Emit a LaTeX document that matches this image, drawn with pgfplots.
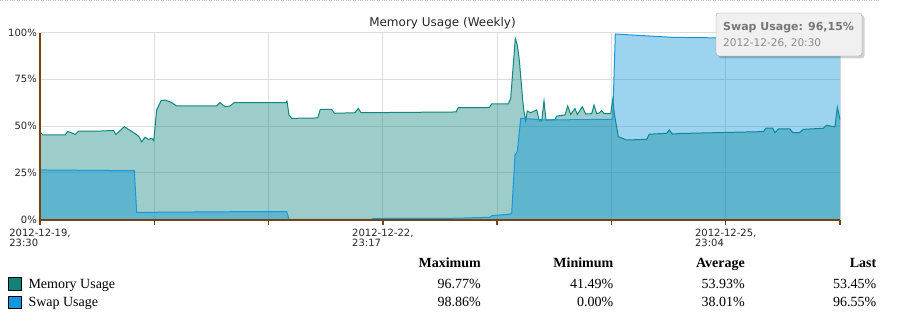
\documentclass[border=0pt]{standalone}
\usepackage{pgfplots}
\usepackage{pgfplotstable}
\pgfplotsset{compat=1.18}
\usepackage{fontspec}
\setmainfont{Liberation Serif}
\newfontfamily\dv{DejaVu Sans}
\definecolor{memline}{RGB}{16,134,126}
\definecolor{memfill}{RGB}{0,127,122}
\definecolor{swline}{RGB}{22,152,216}
\definecolor{swfill}{RGB}{0,141,211}
\definecolor{axbrown}{RGB}{122,66,18}
\definecolor{gridc}{RGB}{221,221,221}
\definecolor{tipfill}{RGB}{240,240,240}
\definecolor{tipbold}{RGB}{118,118,118}
\definecolor{tiptext}{RGB}{138,138,138}
\definecolor{legmem}{RGB}{14,133,120}
\definecolor{legswap}{RGB}{18,150,220}

% x = minutes-scale offset along the week (0..800 = 7 tick intervals)
\pgfplotstableread{
x y
0 46.8
3 45.2
25 45.2
27.7 47
31 46.5
35 45.5
39 47.3
60 47.3
73.3 47.6
76 45.5
80 47.5
84.3 49.6
89.3 47.9
95 46
99 44.3
101.7 41.5
105 44
108.3 42.9
111.7 43.4
113.7 42.2
116.7 58.6
121 63.5
125 63.9
131.7 62.5
136.7 60.7
176.7 60.7
180 62.5
185 60.3
190 60.7
194.3 62.5
246 62.5
247 63.3
249 55.9
251.7 54.1
277.7 54.3
280.3 58.9
291.7 58.9
294.3 56.8
315 57.1
318.3 59.4
321 57.1
416 57.5
418.3 59.8
449.3 59.9
451.7 61.8
468.3 61.8
470.7 64.8
475.3 96.8
477.3 93.3
479.3 85.3
481 74.6
482.7 63.9
484 57.7
485.7 52.8
487.3 58
490.7 57.1
496.7 58.6
499.3 52.8
501.7 52.8
504 63.4
506 53.2
515 53.4
516.7 55.3
525 55.9
527.7 60.7
530.7 56.2
535 59.3
537.3 56.2
542.3 60.3
545.7 56.4
551.7 56.6
554 61.2
556.7 56.6
559.3 57
561.7 58.2
564 56.6
570.7 56.6
572.7 63.9
574.5 56
578.3 44.3
586.7 42.5
606.7 42.9
609.3 45.6
626.7 46.1
629.3 47.9
632.3 45.7
640 46
723.3 47
726 48.8
732.7 48.8
735 46.4
738.3 48.4
750 48.4
752.7 46.4
759.3 46.4
763.3 48.2
783.3 48.8
786.7 50.5
790 50
795 49.6
797.3 60
800 53.5
}\memtab

\pgfplotstableread{
x y
0 26.5
94.3 26.1
96.7 3.8
205 4.2
246.7 4.2
249 0.1
331.7 0.1
333 0.6
410 0.6
450 1.2
451.7 2.0
470 2.9
471.7 3.3
475 34.5
477.3 36.3
480.7 54.1
506.7 53.2
571.7 53.6
572.7 53.8
575.3 99.2
610 98.1
633.3 97.4
700 97.0
780 96.6
800 96.5
}\swaptab

\begin{document}
\begin{tikzpicture}[x=1pt,y=1pt]
\path[use as bounding box] (0,0) rectangle (897,322);
\draw[gray!55, dotted] (0,321.5) -- (880,321.5);
\begin{axis}[
  at={(40pt,102.5pt)}, anchor=south west,
  width=800pt, height=187pt, scale only axis,
  xmin=0, xmax=800, ymin=0, ymax=100,
  axis lines*=left,
  axis line style={axbrown, line width=2pt},
  xtick={0,114.286,228.571,342.857,457.143,571.429,685.714,800},
  xticklabels={{2012-12-19,\\23:30},{},{},{2012-12-22,\\23:17},{},{},{2012-12-25,\\23:04},{}},
  xticklabel style={font=\dv\fontsize{10}{10.6}\selectfont, align=left, anchor=north, inner sep=0pt, yshift=-4pt, text=black!85},
  x tick style={axbrown, line width=1.5pt},
  xtick align=outside,
  major tick length=5pt,
  ytick={0,25,50,75,100},
  yticklabels={0\%,25\%,50\%,75\%,100\%},
  y tick style={draw=none},
  ytick align=inside,
  yticklabel style={font=\dv\fontsize{10}{12}\selectfont, anchor=east, inner sep=0pt, xshift=-3pt, text=black!85},
  grid=major,
  major grid style={gridc, line width=1pt},
  clip=false,
]
\addplot[draw=none, fill=memfill, fill opacity=0.39] table {\memtab} \closedcycle;
\addplot[memline, line width=1pt] table {\memtab};
\addplot[draw=none, fill=swfill, fill opacity=0.39] table {\swaptab} \closedcycle;
\addplot[swline, line width=1pt] table {\swaptab};
\draw[axbrown, line width=2pt] (rel axis cs:0,0) -- (rel axis cs:1,0);
\draw[axbrown, line width=2pt] (rel axis cs:0,0) -- (rel axis cs:0,1);
\end{axis}
% title
\node[anchor=base, inner sep=0pt, font=\dv\fontsize{12}{14}\selectfont, text=black!85] at (442.5,295.3) {Memory Usage (Weekly)};
% tooltip
\fill[black, opacity=0.18, rounded corners=3pt] (718.5,307) rectangle (864.5,263.5);
\draw[gray!75, fill=tipfill, rounded corners=3pt] (716,309) rectangle (862,266);
\node[anchor=base west, inner sep=0pt, font=\dv\bfseries\fontsize{11}{13}\selectfont, text=tipbold] at (723,291) {Swap Usage: 96,15\%};
\node[anchor=base west, inner sep=0pt, font=\dv\fontsize{10.5}{12}\selectfont, text=tiptext] at (723,275.3) {2012-12-26, 20:30};
% stats table
\begin{scope}[every node/.style={inner sep=0pt, font=\fontsize{14}{16}\selectfont}]
\node[anchor=base east, font=\bfseries\fontsize{14}{16}\selectfont] at (481,54.3) {Maximum};
\node[anchor=base east, font=\bfseries\fontsize{14}{16}\selectfont] at (613.5,54.3) {Minimum};
\node[anchor=base east, font=\bfseries\fontsize{14}{16}\selectfont] at (745,54.3) {Average};
\node[anchor=base east, font=\bfseries\fontsize{14}{16}\selectfont] at (876.5,54.3) {Last};
\draw[black, line width=0.8pt, fill=legmem] (8.8,44.2) rectangle (21.2,31.8);
\draw[black, line width=0.8pt, fill=legswap] (8.8,25.8) rectangle (21.2,13.4);
\node[anchor=base west] at (28.3,33.7) {Memory Usage};
\node[anchor=base west] at (28.3,16) {Swap Usage};
\node[anchor=base east] at (481,33.7) {96.77\%};
\node[anchor=base east] at (613.5,33.7) {41.49\%};
\node[anchor=base east] at (745,33.7) {53.93\%};
\node[anchor=base east] at (876.5,33.7) {53.45\%};
\node[anchor=base east] at (481,16) {98.86\%};
\node[anchor=base east] at (613.5,16) {0.00\%};
\node[anchor=base east] at (745,16) {38.01\%};
\node[anchor=base east] at (876.5,16) {96.55\%};
\end{scope}
\end{tikzpicture}
\end{document}
